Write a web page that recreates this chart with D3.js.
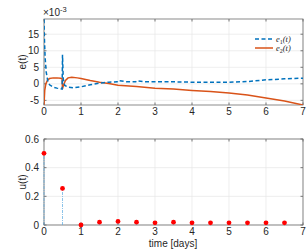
<!DOCTYPE html>
<html>
<head>
<meta charset="utf-8">
<script src="https://d3js.org/d3.v7.min.js"></script>
<style>
  body { margin: 0; background: #fff; }
  svg { display: block; font-family: "Liberation Sans", Arial, sans-serif; }
</style>
</head>
<body>
<svg id="chart" width="308" height="252"></svg>
<script>
// error e1 (x1e-3)
var e1_t = [0, 0.01, 0.03, 0.06, 0.1, 0.15, 0.25, 0.35, 0.49, 0.5, 0.52, 0.56, 0.65, 0.8, 1.0, 1.25, 1.5, 1.75, 1.98, 2.0, 2.25, 2.48, 2.5, 2.75, 3.0, 3.5, 4.0, 4.5, 5.0, 5.5, 6.0, 6.5, 7.0];
var e1_v = [19.5, 14, 8, 3.5, 1.0, -0.3, -1.0, -1.3, -1.6, 8.8, 1.5, -0.5, -1.0, -1.2, -0.9, -0.3, 0.2, 0.5, 0.6, 1.0, 0.6, 0.6, 0.9, 0.6, 0.6, 0.6, 0.5, 0.5, 0.5, 0.7, 1.2, 1.5, 1.7];
// error e2 (x1e-3)
var e2_t = [0, 0.02, 0.05, 0.1, 0.15, 0.25, 0.35, 0.45, 0.49, 0.5, 0.53, 0.58, 0.65, 0.75, 0.9, 1.0, 1.25, 1.5, 1.75, 2.0, 2.5, 3.0, 3.5, 4.0, 4.5, 5.0, 5.5, 6.0, 6.5, 7.0];
var e2_v = [-6.3, -2, 0, 1.2, 1.6, 1.8, 1.8, 1.7, 1.5, -1.5, -0.3, 1.0, 1.8, 2.0, 1.8, 1.6, 1.0, 0.5, 0.1, -0.4, -0.8, -1.3, -1.6, -2.0, -2.3, -2.8, -3.4, -4.3, -5.2, -6.4];
// control input u
var u_t = [0, 0.5, 1, 1.5, 2, 2.5, 3, 3.5, 4, 4.5, 5, 5.5, 6, 6.5];
var u_v = [0.5, 0.255, 0, 0.02, 0.025, 0.02, 0.015, 0.02, 0.015, 0.015, 0.015, 0.015, 0.015, 0.015];

var x_ticks = [0, 1, 2, 3, 4, 5, 6, 7];
var e_ticks = [-5, 0, 5, 10, 15];
var u_ticks = [0, 0.2, 0.4, 0.6];

var left = 44, right = 303;
var svg = d3.select("#chart");
var axisColor = "#262626";

var x = d3.scaleLinear().domain([0, 7]).range([left, right]);
var yE = d3.scaleLinear().domain([-6.4, 19.6]).range([105, 19]);
var yU = d3.scaleLinear().domain([0, 0.6]).range([225, 139]);

function frame(y, yticks, fmt) {
  var y0 = y.range()[0], y1 = y.range()[1];
  var g = svg.append("g");
  // grid
  g.selectAll(".gx").data(x_ticks).enter().append("line")
    .attr("x1", d => x(d)).attr("x2", d => x(d))
    .attr("y1", y0).attr("y2", y1)
    .attr("stroke", "#e6e6e6").attr("stroke-width", 0.7);
  g.selectAll(".gy").data(yticks).enter().append("line")
    .attr("x1", left).attr("x2", right)
    .attr("y1", d => y(d)).attr("y2", d => y(d))
    .attr("stroke", "#e6e6e6").attr("stroke-width", 0.7);
  // ticks inward, all sides
  g.selectAll(".tx").data(x_ticks).enter().append("path")
    .attr("d", d => "M" + x(d) + "," + y0 + "v-2.5M" + x(d) + "," + y1 + "v2.5")
    .attr("stroke", axisColor).attr("stroke-width", 0.6);
  g.selectAll(".ty").data(yticks).enter().append("path")
    .attr("d", d => "M" + left + "," + y(d) + "h2.5M" + right + "," + y(d) + "h-2.5")
    .attr("stroke", axisColor).attr("stroke-width", 0.6);
  // box
  g.append("rect")
    .attr("x", left).attr("y", y1)
    .attr("width", right - left).attr("height", y0 - y1)
    .attr("fill", "none").attr("stroke", "#6e6e6e").attr("stroke-width", 0.8);
  // labels
  g.selectAll(".lx").data(x_ticks).enter().append("text")
    .attr("x", d => x(d)).attr("y", y0 + 10)
    .attr("text-anchor", "middle")
    .attr("font-size", 10).attr("fill", axisColor)
    .text(d => d);
  g.selectAll(".ly").data(yticks).enter().append("text")
    .attr("x", left - 5).attr("y", d => y(d) + 3.5)
    .attr("text-anchor", "end")
    .attr("font-size", 10).attr("fill", axisColor)
    .text(fmt);
  return g;
}

frame(yE, e_ticks, d => d);
frame(yU, u_ticks, d => d === 0 ? "0" : d.toFixed(1));

// exponent label
var ex = svg.append("text").attr("x", 43).attr("y", 16)
  .attr("font-size", 10).attr("fill", axisColor);
ex.append("tspan").text("\u00d710");
ex.append("tspan").attr("dy", -4.5).attr("font-size", 7.5).text("-3");

// axis titles
svg.append("text").attr("transform", "translate(26,62) rotate(-90)")
  .attr("text-anchor", "middle").attr("font-size", 10).attr("fill", axisColor)
  .text("e(t)");
svg.append("text").attr("transform", "translate(26,182) rotate(-90)")
  .attr("text-anchor", "middle").attr("font-size", 10).attr("fill", axisColor)
  .text("u(t)");
svg.append("text").attr("x", 173).attr("y", 247)
  .attr("text-anchor", "middle").attr("font-size", 10).attr("fill", axisColor)
  .text("time [days]");

// error lines
var line = d3.line().x(d => x(d[0])).y(d => yE(d[1]));
svg.append("clipPath").attr("id", "clipE").append("rect")
  .attr("x", left).attr("y", 19).attr("width", right - left).attr("height", 86);

var e2 = d3.zip(e2_t, e2_v);
var e1 = d3.zip(e1_t, e1_v);

svg.append("path").datum(e2)
  .attr("clip-path", "url(#clipE)")
  .attr("d", line).attr("fill", "none")
  .attr("stroke", "#D95319").attr("stroke-width", 1.5);
svg.append("path").datum(e1)
  .attr("clip-path", "url(#clipE)")
  .attr("d", line).attr("fill", "none")
  .attr("stroke", "#0072BD").attr("stroke-width", 1.5)
  .attr("stroke-dasharray", "4,2.5");

// legend
var leg = svg.append("g").attr("font-family", "'Liberation Serif', 'DejaVu Serif', serif")
  .attr("font-style", "italic").attr("font-size", 8.5).attr("fill", axisColor);
var legItems = [
  {name: "e", sub: "1", color: "#0072BD", dash: "4,2.5", y: 39},
  {name: "e", sub: "2", color: "#D95319", dash: null, y: 48}
];
legItems.forEach(function(o) {
  leg.append("line").attr("x1", 255).attr("x2", 273).attr("y1", o.y).attr("y2", o.y)
    .attr("stroke", o.color).attr("stroke-width", 1.5)
    .attr("stroke-dasharray", o.dash);
  var t = leg.append("text").attr("x", 276).attr("y", o.y + 3);
  t.append("tspan").text(o.name);
  t.append("tspan").attr("dy", 2).attr("font-size", 6).attr("font-style", "normal").text(o.sub);
  t.append("tspan").attr("dy", -2).text("(t)");
});

// stems for u
var u = d3.zip(u_t, u_v);
svg.selectAll(".stem").data(u).enter().append("line")
  .attr("x1", d => x(d[0])).attr("x2", d => x(d[0]))
  .attr("y1", yU(0)).attr("y2", d => yU(d[1]))
  .attr("stroke", "#5aa9e0").attr("stroke-width", 0.7)
  .attr("stroke-dasharray", "3,1,1,1");
svg.selectAll(".dot").data(u).enter().append("circle")
  .attr("cx", d => x(d[0])).attr("cy", d => yU(d[1]))
  .attr("r", 2.4).attr("fill", "#ff0000");
</script>
</body>
</html>
